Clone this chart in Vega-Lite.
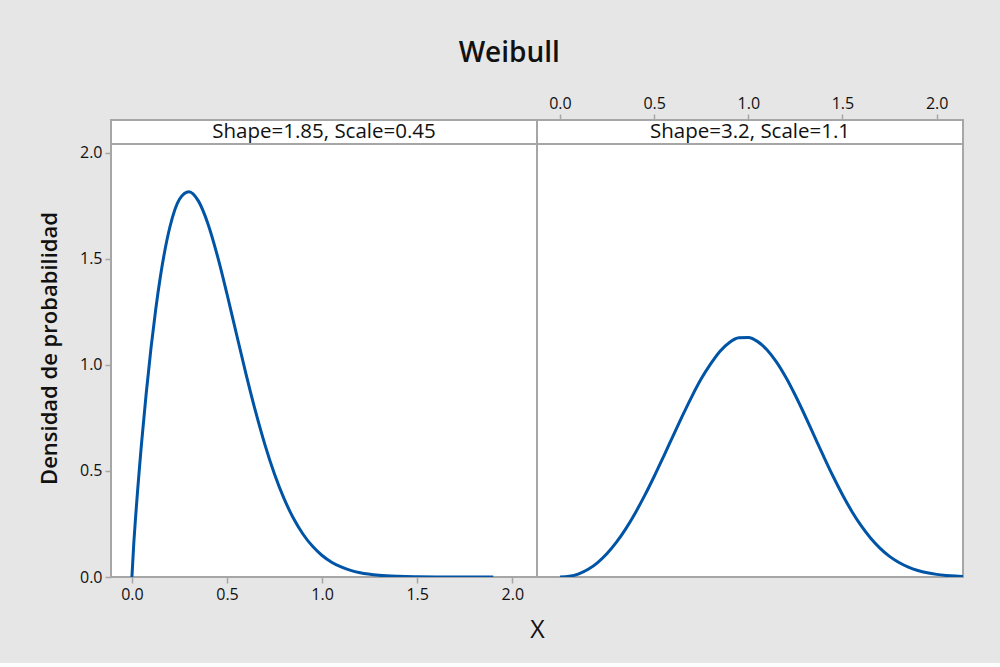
{
  "$schema": "https://vega.github.io/schema/vega-lite/v6.json",
  "background": "#e6e6e6",
  "padding": {"left": 37, "top": 40, "right": 36, "bottom": 20},
  "bounds": "flush",
  "title": {"text": "Weibull", "fontSize": 28, "fontWeight": 600, "font": "Open Sans", "color": "#111111", "offset": 26, "anchor": "middle", "dx": 8},
  "config": {
    "font": "Open Sans",
    "view": {"stroke": "#a6a6a6", "strokeWidth": 2, "fill": "white"},
    "axis": {"grid": false, "domain": false, "tickColor": "#a6a6a6", "tickWidth": 1.5, "tickSize": 6, "labelFontSize": 16, "labelColor": "#111111", "titleColor": "#111111", "labelPadding": 3}
  },
  "datasets": {
    "strip": [{"panel": "L", "label": "Shape=1.85, Scale=0.45"}, {"panel": "R", "label": "Shape=3.2, Scale=1.1"}],
    "weib": [
      {"panel": "L", "x": 0, "y": 0},
      {"panel": "L", "x": 0.01, "y": 0.1615},
      {"panel": "L", "x": 0.02, "y": 0.2905},
      {"panel": "L", "x": 0.03, "y": 0.4087},
      {"panel": "L", "x": 0.04, "y": 0.5195},
      {"panel": "L", "x": 0.05, "y": 0.6243},
      {"panel": "L", "x": 0.075, "y": 0.8645},
      {"panel": "L", "x": 0.1, "y": 1.076},
      {"panel": "L", "x": 0.125, "y": 1.2604},
      {"panel": "L", "x": 0.15, "y": 1.4174},
      {"panel": "L", "x": 0.2, "y": 1.6508},
      {"panel": "L", "x": 0.25, "y": 1.7807},
      {"panel": "L", "x": 0.3, "y": 1.8163},
      {"panel": "L", "x": 0.35, "y": 1.7716},
      {"panel": "L", "x": 0.4, "y": 1.6643},
      {"panel": "L", "x": 0.45, "y": 1.5124},
      {"panel": "L", "x": 0.5, "y": 1.3338},
      {"panel": "L", "x": 0.55, "y": 1.1442},
      {"panel": "L", "x": 0.6, "y": 0.9565},
      {"panel": "L", "x": 0.65, "y": 0.7803},
      {"panel": "L", "x": 0.7, "y": 0.6217},
      {"panel": "L", "x": 0.75, "y": 0.4844},
      {"panel": "L", "x": 0.8, "y": 0.3692},
      {"panel": "L", "x": 0.85, "y": 0.2756},
      {"panel": "L", "x": 0.9, "y": 0.2016},
      {"panel": "L", "x": 0.95, "y": 0.1444},
      {"panel": "L", "x": 1.0, "y": 0.1014},
      {"panel": "L", "x": 1.05, "y": 0.0699},
      {"panel": "L", "x": 1.1, "y": 0.0473},
      {"panel": "L", "x": 1.15, "y": 0.0314},
      {"panel": "L", "x": 1.2, "y": 0.0204},
      {"panel": "L", "x": 1.3, "y": 0.0082},
      {"panel": "L", "x": 1.4, "y": 0.0031},
      {"panel": "L", "x": 1.5, "y": 0.0011},
      {"panel": "L", "x": 1.6, "y": 0.0003},
      {"panel": "L", "x": 1.7, "y": 0.0001},
      {"panel": "L", "x": 1.8, "y": 0},
      {"panel": "L", "x": 1.9, "y": 0},
      {"panel": "R", "x": 0, "y": 0},
      {"panel": "R", "x": 0.05, "y": 0.0032},
      {"panel": "R", "x": 0.1, "y": 0.0149},
      {"panel": "R", "x": 0.15, "y": 0.0363},
      {"panel": "R", "x": 0.2, "y": 0.0681},
      {"panel": "R", "x": 0.25, "y": 0.1108},
      {"panel": "R", "x": 0.3, "y": 0.1643},
      {"panel": "R", "x": 0.35, "y": 0.2283},
      {"panel": "R", "x": 0.4, "y": 0.3021},
      {"panel": "R", "x": 0.45, "y": 0.3845},
      {"panel": "R", "x": 0.5, "y": 0.4738},
      {"panel": "R", "x": 0.55, "y": 0.5679},
      {"panel": "R", "x": 0.6, "y": 0.664},
      {"panel": "R", "x": 0.65, "y": 0.7594},
      {"panel": "R", "x": 0.7, "y": 0.8505},
      {"panel": "R", "x": 0.75, "y": 0.934},
      {"panel": "R", "x": 0.8, "y": 1.0044},
      {"panel": "R", "x": 0.85, "y": 1.0644},
      {"panel": "R", "x": 0.9, "y": 1.1054},
      {"panel": "R", "x": 0.95, "y": 1.1272},
      {"panel": "R", "x": 1.0, "y": 1.1287},
      {"panel": "R", "x": 1.05, "y": 1.1094},
      {"panel": "R", "x": 1.1, "y": 1.0702},
      {"panel": "R", "x": 1.15, "y": 1.0129},
      {"panel": "R", "x": 1.2, "y": 0.9401},
      {"panel": "R", "x": 1.25, "y": 0.8553},
      {"panel": "R", "x": 1.3, "y": 0.7624},
      {"panel": "R", "x": 1.35, "y": 0.6653},
      {"panel": "R", "x": 1.4, "y": 0.5684},
      {"panel": "R", "x": 1.45, "y": 0.4747},
      {"panel": "R", "x": 1.5, "y": 0.3878},
      {"panel": "R", "x": 1.55, "y": 0.3091},
      {"panel": "R", "x": 1.6, "y": 0.2406},
      {"panel": "R", "x": 1.65, "y": 0.1826},
      {"panel": "R", "x": 1.7, "y": 0.1352},
      {"panel": "R", "x": 1.75, "y": 0.0973},
      {"panel": "R", "x": 1.8, "y": 0.0683},
      {"panel": "R", "x": 1.85, "y": 0.0465},
      {"panel": "R", "x": 1.9, "y": 0.0309},
      {"panel": "R", "x": 1.95, "y": 0.0198},
      {"panel": "R", "x": 2.0, "y": 0.0124},
      {"panel": "R", "x": 2.05, "y": 0.0075},
      {"panel": "R", "x": 2.1, "y": 0.0044},
      {"panel": "R", "x": 2.14, "y": 0.0029}
    ]
  },
  "spacing": 0,
  "hconcat": [
    {
      "width": 426,
      "height": 457,
      "layer": [
        {
          "data": {"name": "weib"},
          "transform": [{"filter": "datum.panel === 'L'"}],
          "mark": {"type": "line", "color": "#0054a6", "strokeWidth": 3, "interpolate": "monotone", "clip": true},
          "encoding": {
            "x": {"field": "x", "type": "quantitative", "scale": {"domain": [-0.11, 2.13], "nice": false, "zero": false},
              "axis": {"orient": "bottom", "values": [0, 0.5, 1, 1.5, 2], "format": ".1f", "title": "X", "titleFontSize": 25, "titleFontWeight": 500, "titleX": 426, "titleAlign": "center", "titlePadding": 15}},
            "y": {"field": "y", "type": "quantitative", "scale": {"domain": [0, 2.154], "nice": false, "zero": false},
              "axis": {"values": [0, 0.5, 1, 1.5, 2], "format": ".1f", "title": "Densidad de probabilidad", "titleFontSize": 22, "titleFontWeight": 600, "titleY": 228, "titlePadding": 18}}
          }
        },
        {
          "data": {"name": "strip"},
          "transform": [{"filter": "datum.panel === 'L'"}],
          "mark": {"type": "rule", "color": "#a6a6a6", "strokeWidth": 2},
          "encoding": {"y": {"datum": 2.041, "type": "quantitative"}}
        },
        {
          "data": {"name": "strip"},
          "transform": [{"filter": "datum.panel === 'L'"}],
          "mark": {"type": "text", "fontSize": 20.5, "font": "Open Sans", "color": "#111111", "baseline": "middle"},
          "encoding": {
            "x": {"datum": 1.01, "type": "quantitative"},
            "y": {"datum": 2.098, "type": "quantitative"},
            "text": {"field": "label"}
          }
        }
      ]
    },
    {
      "width": 426,
      "height": 457,
      "layer": [
        {
          "data": {"name": "weib"},
          "transform": [{"filter": "datum.panel === 'R'"}],
          "mark": {"type": "line", "color": "#0054a6", "strokeWidth": 3, "interpolate": "monotone", "clip": true},
          "encoding": {
            "x": {"field": "x", "type": "quantitative", "scale": {"domain": [-0.122, 2.14], "nice": false, "zero": false},
              "axis": {"orient": "top", "values": [0, 0.5, 1, 1.5, 2], "format": ".1f", "title": null}},
            "y": {"field": "y", "type": "quantitative", "scale": {"domain": [0, 2.154], "nice": false, "zero": false}, "axis": null}
          }
        },
        {
          "data": {"name": "strip"},
          "transform": [{"filter": "datum.panel === 'R'"}],
          "mark": {"type": "rule", "color": "#a6a6a6", "strokeWidth": 2},
          "encoding": {"y": {"datum": 2.041, "type": "quantitative"}}
        },
        {
          "data": {"name": "strip"},
          "transform": [{"filter": "datum.panel === 'R'"}],
          "mark": {"type": "text", "fontSize": 20.5, "font": "Open Sans", "color": "#111111", "baseline": "middle"},
          "encoding": {
            "x": {"datum": 1.009, "type": "quantitative"},
            "y": {"datum": 2.098, "type": "quantitative"},
            "text": {"field": "label"}
          }
        }
      ]
    }
  ]
}
